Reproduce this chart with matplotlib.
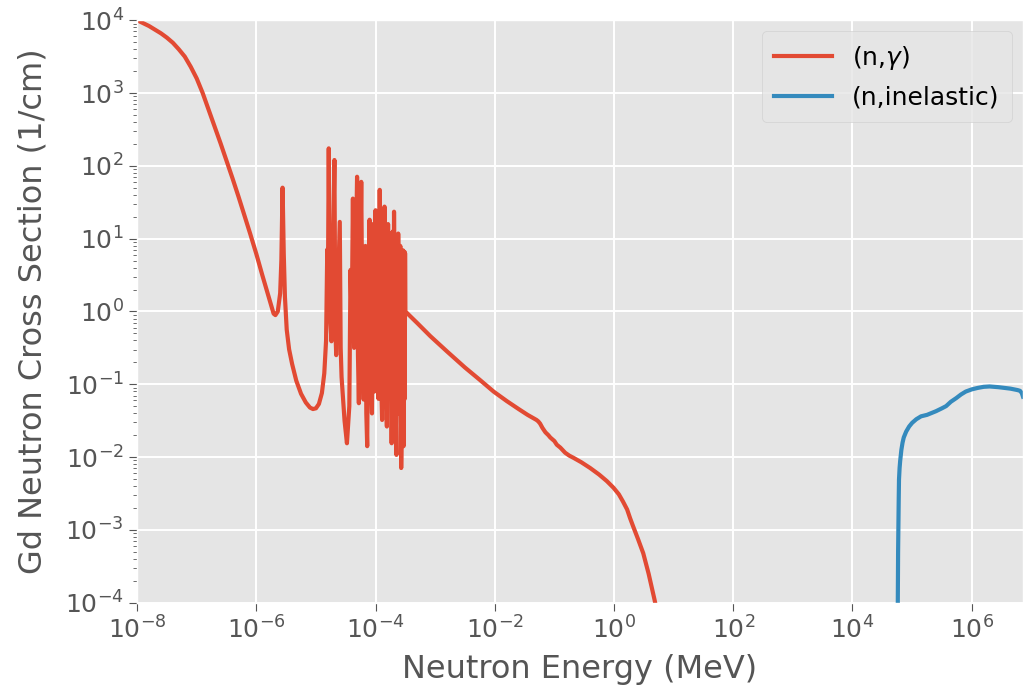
import numpy as np
import matplotlib
matplotlib.use("Agg")
import matplotlib.pyplot as plt
from matplotlib.ticker import LogLocator, NullLocator, FixedLocator

# ---- data (log10 values) ----
# (n,gamma): smooth thermal part
thermal_log_energy = [
    -8.00, -7.90, -7.80, -7.70, -7.60, -7.50, -7.40, -7.30, -7.20, -7.10,
    -7.00, -6.90, -6.80, -6.70, -6.60, -6.50, -6.40, -6.30, -6.20, -6.10,
    -6.00, -5.90, -5.80, -5.75, -5.71, -5.68, -5.64, -5.60, -5.58, -5.565,
    -5.56, -5.555, -5.54, -5.52, -5.49, -5.45, -5.40, -5.33, -5.25, -5.17,
    -5.10, -5.05, -5.00, -4.95, -4.90, -4.86, -4.83,
]
thermal_log_xs = [
    4.00, 3.96, 3.92, 3.87, 3.82, 3.76, 3.69, 3.60, 3.50, 3.36,
    3.20, 3.00, 2.77, 2.54, 2.31, 2.07, 1.83, 1.58, 1.32, 1.06,
    0.79, 0.50, 0.22, 0.08, -0.03, -0.05, 0.00, 0.25, 0.70, 1.50,
    1.70, 1.50, 0.80, 0.20, -0.25, -0.52, -0.72, -0.95, -1.13, -1.25,
    -1.32, -1.34, -1.33, -1.27, -1.12, -0.85, -0.40,
]
# (n,gamma): resolved resonance region
resonance_log_energy = [
    -4.81, -4.80, -4.785, -4.775, -4.76, -4.74, -4.72, -4.69, -4.675, -4.66,
    -4.63, -4.60, -4.585, -4.57, -4.52, -4.48, -4.44, -4.42, -4.40, -4.38,
    -4.36, -4.34, -4.31, -4.295, -4.28, -4.26, -4.24, -4.22, -4.20, -4.17,
    -4.155, -4.14, -4.12, -4.10, -4.08, -4.06, -4.04, -4.02, -4.00, -3.985,
    -3.965, -3.95, -3.93, -3.91, -3.89, -3.87, -3.86, -3.85, -3.83, -3.81,
    -3.79, -3.77, -3.75, -3.73, -3.71, -3.70, -3.69, -3.67, -3.65, -3.635,
    -3.625, -3.62, -3.60, -3.585, -3.57, -3.55, -3.54, -3.53, -3.515, -3.51,
    -3.505,
]
resonance_log_xs = [
    0.85, 0.20, 2.24, 1.00, -0.10, -0.41, 0.50, 2.08, -0.20, -0.60,
    0.30, 1.23, -0.50, -0.90, -1.50, -1.81, -1.30, 0.57, -0.20, 1.55,
    -0.50, 0.20, 1.85, -0.60, -1.26, 0.40, 1.78, -0.30, -1.21, 0.90,
    -1.40, -1.85, 0.50, 1.26, -0.80, -1.40, 1.20, -1.10, 1.39, -0.94,
    1.00, -1.20, 1.67, -0.80, -1.49, 1.10, -1.10, 1.44, -0.90, -1.58,
    1.20, -1.20, 1.07, -1.81, 1.10, -1.30, 1.37, -1.00, -1.97, 0.90,
    -1.40, 1.07, -1.20, 0.90, -2.15, -0.80, 0.84, -1.85, 0.82, -1.20,
    0.80,
]
# (n,gamma): smooth fast part
fast_log_energy = [
    -3.50, -3.30, -3.08, -2.80, -2.50, -2.25, -2.02, -1.80, -1.60, -1.45,
    -1.30, -1.27, -1.24, -1.20, -1.15, -1.10, -1.07, -1.00, -0.96, -0.90,
    -0.82, -0.75, -0.68, -0.55, -0.40, -0.25, -0.12, -0.01, 0.08, 0.15,
    0.22, 0.27, 0.32, 0.40, 0.49, 0.58, 0.68, 0.75,
]
fast_log_xs = [
    0.00, -0.16, -0.34, -0.55, -0.77, -0.94, -1.10, -1.23, -1.34, -1.42,
    -1.49, -1.51, -1.54, -1.60, -1.66, -1.70, -1.73, -1.78, -1.83, -1.87,
    -1.94, -1.98, -2.01, -2.07, -2.15, -2.24, -2.33, -2.42, -2.51, -2.61,
    -2.72, -2.84, -2.95, -3.12, -3.32, -3.60, -3.96, -4.25,
]

# (n,inelastic)
inel_log_energy = [
    4.760, 4.760, 4.765, 4.770, 4.775, 4.780, 4.790, 4.800, 4.820, 4.840,
    4.860, 4.900, 4.950, 5.000, 5.070, 5.150, 5.250, 5.400, 5.500, 5.570,
    5.650, 5.740, 5.820, 5.900, 6.000, 6.100, 6.200, 6.300, 6.450, 6.550,
    6.650, 6.770, 6.810, 6.840, 6.860,
]
inel_log_xs = [
    -5.00, -3.98, -3.30, -2.95, -2.60, -2.31, -2.15, -2.05, -1.90, -1.80,
    -1.73, -1.65, -1.58, -1.53, -1.48, -1.44, -1.42, -1.37, -1.33, -1.30,
    -1.24, -1.19, -1.14, -1.10, -1.07, -1.05, -1.035, -1.03, -1.04, -1.05,
    -1.06, -1.08, -1.09, -1.12, -1.17,
]

labels = [r"(n,$\gamma$)", "(n,inelastic)"]
x_ticks = [1e-8, 1e-6, 1e-4, 1e-2, 1e0, 1e2, 1e4, 1e6]

ngamma_E = 10 ** np.array(thermal_log_energy + resonance_log_energy + fast_log_energy)
ngamma_S = 10 ** np.array(thermal_log_xs + resonance_log_xs + fast_log_xs)
inel_E = 10 ** np.array(inel_log_energy)
inel_S = 10 ** np.array(inel_log_xs)

# ---- plot ----
plt.style.use("ggplot")
fig = plt.figure(figsize=(10.23, 6.96), dpi=100)
ax = fig.add_axes([0.134, 0.134, 0.866, 0.837])

ax.plot(ngamma_E, ngamma_S, color="#E24A33", lw=3.0, label=labels[0])
ax.plot(inel_E, inel_S, color="#348ABD", lw=3.0, label=labels[1])

ax.set_xscale("log")
ax.set_yscale("log")
ax.set_xlim(1e-8, 10 ** 6.86)
ax.set_ylim(1e-4, 1e4)
ax.xaxis.set_major_locator(FixedLocator(x_ticks))
ax.xaxis.set_minor_locator(NullLocator())
ax.yaxis.set_major_locator(LogLocator(base=10, numticks=20))
ax.yaxis.set_minor_locator(LogLocator(base=10, subs=np.arange(2, 10), numticks=20))

ax.tick_params(axis="both", which="major", labelsize=18, length=6, color="#555555")
ax.tick_params(axis="both", which="minor", length=3, color="#555555")
ax.grid(True, which="major", color="white", lw=1.4)

ax.set_xlabel("Neutron Energy (MeV)", fontsize=23, color="#555555", labelpad=8)
ax.set_ylabel("Gd Neutron Cross Section (1/cm)", fontsize=23, color="#555555", labelpad=12)

ax.legend(loc="upper right", fontsize=18, handlelength=2.3, borderpad=0.5,
          labelspacing=0.55, handletextpad=0.8, borderaxespad=0.45,
          facecolor="#E5E5E5", edgecolor="#CCCCCC")

fig.savefig("out.png", dpi=100)
